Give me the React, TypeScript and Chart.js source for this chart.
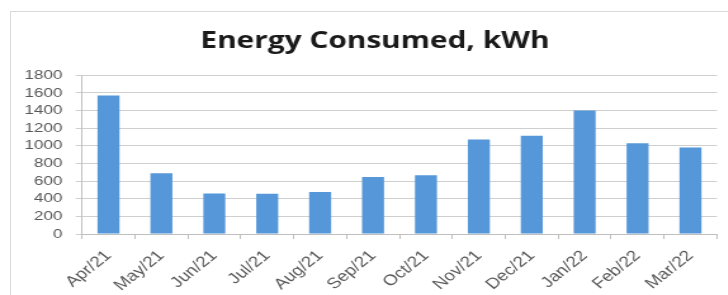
import React, { useEffect, useRef } from "react";
import { Chart, registerables } from "chart.js";

Chart.register(...registerables);

const categories = ["Apr/21", "May/21", "Jun/21", "Jul/21", "Aug/21", "Sep/21", "Oct/21", "Nov/21", "Dec/21", "Jan/22", "Feb/22", "Mar/22"];
const energyKWh = [1570, 690, 460, 455, 475, 645, 665, 1070, 1115, 1400, 1030, 980];
const yMin = 0;
const yMax = 1800;
const yStep = 200;
const titleText = "Energy Consumed, kWh";

const W = 592;
const H = 295;
const SX = 1.268;
const TITLE_LEFT = 26;

const titleShift = {
  id: "titleShift",
  afterLayout(chart: any) {
    const t = chart.titleBlock;
    if (t) {
      t.left = TITLE_LEFT;
    }
  },
};

export default function App() {
  const ref = useRef<HTMLCanvasElement | null>(null);

  useEffect(() => {
    const canvas = ref.current;
    if (!canvas) return;
    const chart = new Chart(canvas, {
      type: "bar",
      data: {
        labels: categories,
        datasets: [
          {
            label: titleText,
            data: energyKWh,
            backgroundColor: "#5597D8",
            borderWidth: 0,
            categoryPercentage: 1,
            barPercentage: 0.415,
          },
        ],
      },
      plugins: [titleShift],
      options: {
        responsive: false,
        animation: false,
        devicePixelRatio: 1,
        layout: { padding: { left: 0, right: 26.6, top: 0, bottom: 0 } },
        plugins: {
          legend: { display: false },
          tooltip: { enabled: false },
          title: {
            display: true,
            text: titleText,
            color: "#1a1a1a",
            font: { family: "'Open Sans', sans-serif", size: 23.5, weight: "bold" },
            padding: { top: 27, bottom: 20 },
          },
        },
        scales: {
          x: {
            offset: true,
            grid: { display: true, drawOnChartArea: false, drawTicks: true, tickLength: 5, offset: true, color: "#bfbfbf" },
            border: { display: true, color: "#bfbfbf" },
            ticks: {
              color: "#595959",
              font: { family: "'Liberation Sans', Arial, sans-serif", size: 15 },
              minRotation: 45,
              maxRotation: 45,
              autoSkip: false,
              padding: 8,
            },
            afterFit: (scale: any) => {
              scale.height = 61;
            },
          },
          y: {
            min: yMin,
            max: yMax,
            grid: { color: "#cfcfcf", tickLength: 5, drawTicks: true },
            border: { display: true, color: "#bfbfbf" },
            ticks: {
              stepSize: yStep,
              autoSkip: false,
              color: "#595959",
              font: { family: "'Liberation Sans', Arial, sans-serif", size: 13.5 },
              padding: 10.5,
              callback: (v: any) => String(v),
            },
            afterFit: (scale: any) => {
              scale.width = 64.7;
            },
          },
        },
      },
    });
    return () => chart.destroy();
  }, []);

  return (
    <div style={{ position: "absolute", left: 0, top: 0, width: 728, height: 295, overflow: "hidden", background: "#ffffff" }}>
      <div
        style={{
          position: "absolute",
          left: 10,
          top: 11,
          width: 760,
          height: 320,
          border: "1px solid #d9d9d9",
          boxSizing: "border-box",
        }}
      />
      <canvas
        ref={ref}
        width={W}
        height={H}
        style={{
          position: "absolute",
          left: 0,
          top: 0,
          width: W,
          height: H,
          transform: `scaleX(${SX})`,
          transformOrigin: "0 0",
        }}
      />
    </div>
  );
}
